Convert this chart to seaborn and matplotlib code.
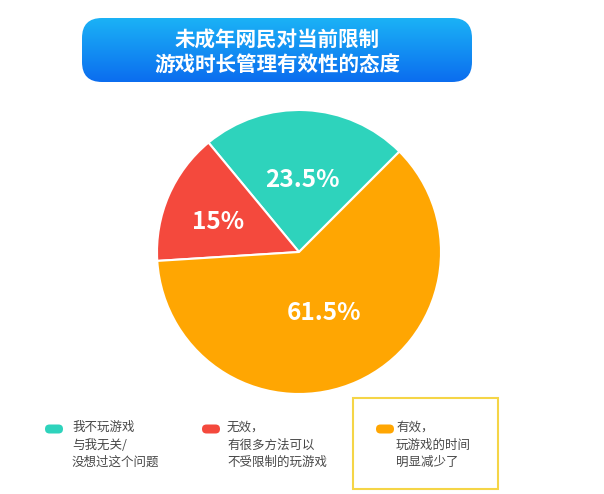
import numpy as np
import matplotlib
matplotlib.use("Agg")
import matplotlib.pyplot as plt
import seaborn as sns
from matplotlib.patches import FancyBboxPatch, Rectangle

# data
categories = ["我不玩游戏\n与我无关/\n没想过这个问题",
              "无效，\n有很多方法可以\n不受限制的玩游戏",
              "有效，\n玩游戏的时间\n明显减少了"]
values = [23.5, 15, 61.5]
pct_labels = ["23.5%", "15%", "61.5%"]
colors = ["#2ED3BC", "#F4493D", "#FFA602"]
title_lines = ["未成年网民对当前限制", "游戏时长管理有效性的态度"]

sns.set_theme(style="white")
plt.rcParams["font.family"] = ["Noto Sans CJK SC", "DejaVu Sans"]
palette = sns.color_palette(colors)

W, H = 604, 494
fig = plt.figure(figsize=(W / 100, H / 100), dpi=100)
fig.patch.set_facecolor("white")

# overlay in pixel coords
bg = fig.add_axes([0, 0, 1, 1])
bg.set_xlim(0, W)
bg.set_ylim(H, 0)
bg.axis("off")

# title box with blue gradient
box = FancyBboxPatch((82, 18), 390, 64, boxstyle="round,pad=0,rounding_size=20",
                     facecolor="none", edgecolor="none")
bg.add_patch(box)
grad = np.linspace(0, 1, 100).reshape(-1, 1)
cmap = matplotlib.colors.LinearSegmentedColormap.from_list("blu", ["#1BB2F6", "#0B6DEF"])
im = bg.imshow(grad, cmap=cmap, extent=(82, 472, 82, 18), aspect="auto", zorder=1)
im.set_clip_path(box)
for y, line in zip([40, 65], title_lines):
    bg.text(277, y, line, ha="center", va="center", color="white",
            fontsize=14.8, fontweight="heavy", zorder=3)

# pie
ax = fig.add_axes([157 / W, 1 - 394 / H, 284 / W, 284 / H])
wedges, texts, autotexts = ax.pie(
    values, colors=palette, startangle=45, counterclock=True,
    autopct="%1.1f%%", pctdistance=0.55, radius=1,
    wedgeprops=dict(edgecolor="white", linewidth=1.5))
ax.set_xlim(-1, 1)
ax.set_ylim(-1, 1)
ax.set_aspect("equal")

dist = [0.54, 0.62, 0.43]
for w, t, lab, d in zip(wedges, autotexts, pct_labels, dist):
    ang = np.deg2rad((w.theta1 + w.theta2) / 2)
    t.set_position((d * np.cos(ang), d * np.sin(ang) - 0.035))
    t.set_text(lab)
    t.set_color("white")
    t.set_fontsize(17.5)
    t.set_fontweight("bold")

# legend
pill_x = [45, 202, 376]
text_x = [72, 227, 396]
for px, tx, c, lab in zip(pill_x, text_x, palette, categories):
    bg.add_patch(FancyBboxPatch((px, 424.5), 18, 9, boxstyle="round,pad=0,rounding_size=4.5",
                                facecolor=c, edgecolor="none"))
    bg.text(tx, 421, lab, ha="left", va="top", color="#474747", fontsize=9,
            linespacing=1.45)

bg.add_patch(Rectangle((353, 398), 145, 91, facecolor="none", edgecolor="#F5D547",
                       linewidth=1.5))

fig.savefig("out.png", dpi=100)
